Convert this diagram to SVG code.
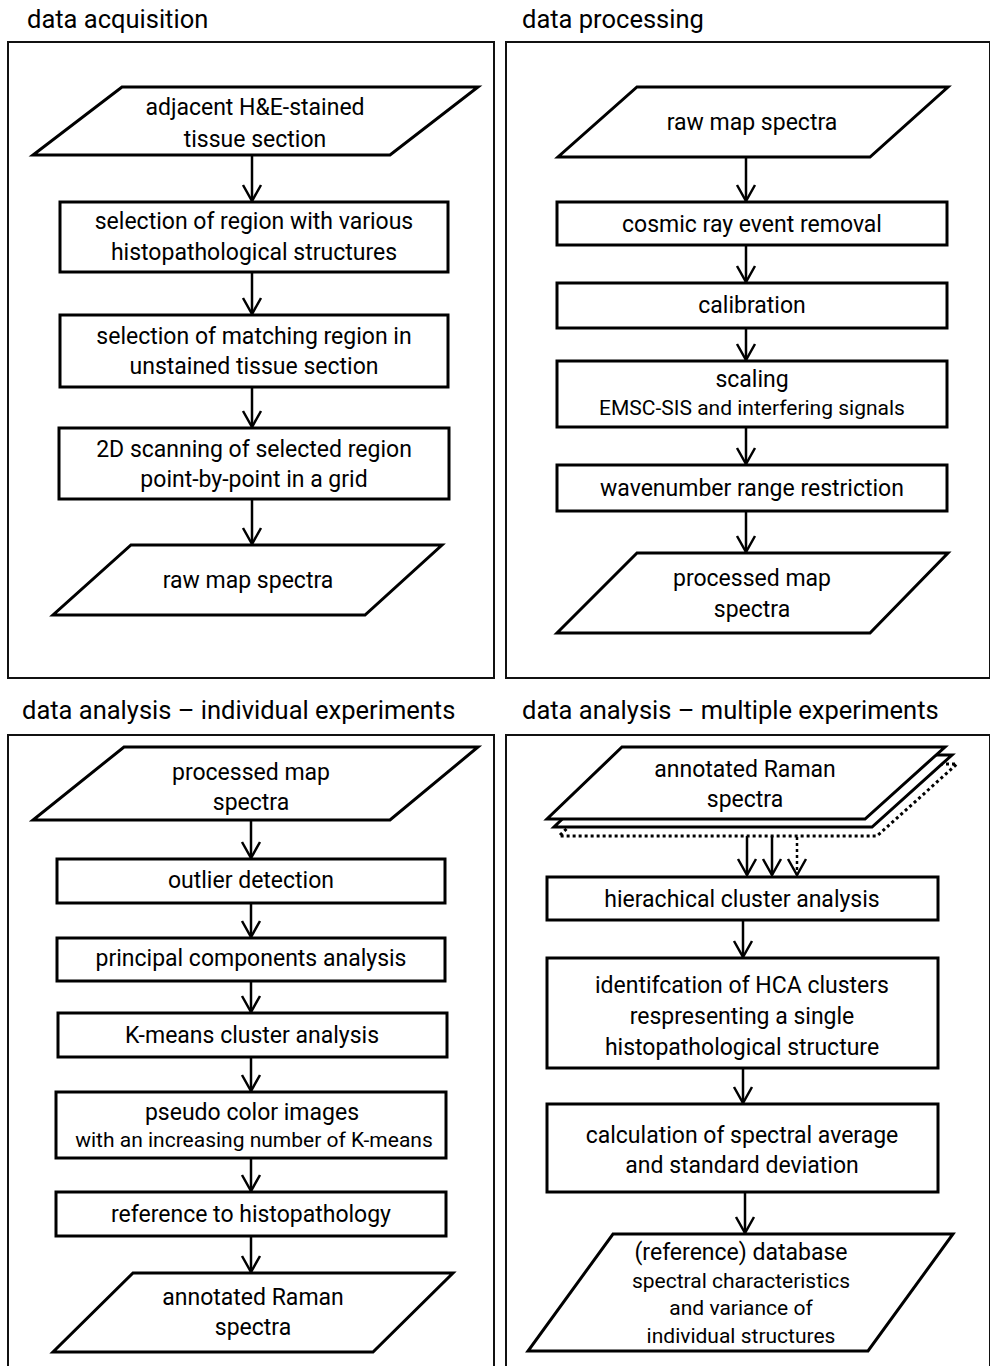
<svg xmlns="http://www.w3.org/2000/svg" width="990" height="1366" viewBox="0 0 990 1366">
<style>
text{font-family:Roboto,"Liberation Sans",sans-serif;fill:#000;text-anchor:middle;font-size:23px}
.title{text-anchor:start;font-size:25.5px}
.sub{font-size:21px}
.panel{fill:none;stroke:#111;stroke-width:2}
.node{fill:#fff;stroke:#000;stroke-width:3;stroke-linejoin:miter}
.conn{stroke:#000;stroke-width:2.5;fill:none}
.dot{stroke-dasharray:3 3}
</style>
<defs>
<marker id="ah" viewBox="-18 -11 20 22" markerWidth="20" markerHeight="22" refX="0" refY="0" orient="auto" markerUnits="userSpaceOnUse">
<path d="M-16,-9 L0,0 L-16,9" fill="none" stroke="#000" stroke-width="2.5"/>
</marker>
</defs>
<rect width="990" height="1366" fill="#fff"/>

<g id="panels">
<rect class="panel" x="8" y="42" width="486" height="636"/>
<rect class="panel" x="506" y="42" width="484" height="636"/>
<rect class="panel" x="8" y="735" width="486" height="640"/>
<rect class="panel" x="506" y="735" width="484" height="640"/>
<text class="title" x="27" y="28">data acquisition</text>
<text class="title" x="522" y="28">data processing</text>
<text class="title" x="22" y="719">data analysis – individual experiments</text>
<text class="title" x="522" y="719">data analysis – multiple experiments</text>
</g>

<g id="connectors">
<line class="conn" x1="252" y1="155" x2="252" y2="201" marker-end="url(#ah)"/>
<line class="conn" x1="252" y1="272" x2="252" y2="314" marker-end="url(#ah)"/>
<line class="conn" x1="252" y1="387" x2="252" y2="427" marker-end="url(#ah)"/>
<line class="conn" x1="252" y1="499" x2="252" y2="544" marker-end="url(#ah)"/>

<line class="conn" x1="746" y1="157" x2="746" y2="201" marker-end="url(#ah)"/>
<line class="conn" x1="746" y1="245" x2="746" y2="282" marker-end="url(#ah)"/>
<line class="conn" x1="746" y1="328" x2="746" y2="360" marker-end="url(#ah)"/>
<line class="conn" x1="746" y1="427" x2="746" y2="464" marker-end="url(#ah)"/>
<line class="conn" x1="746" y1="511" x2="746" y2="552" marker-end="url(#ah)"/>

<line class="conn" x1="251" y1="820" x2="251" y2="858" marker-end="url(#ah)"/>
<line class="conn" x1="251" y1="903" x2="251" y2="937" marker-end="url(#ah)"/>
<line class="conn" x1="251" y1="981" x2="251" y2="1012" marker-end="url(#ah)"/>
<line class="conn" x1="251" y1="1057" x2="251" y2="1091" marker-end="url(#ah)"/>
<line class="conn" x1="251" y1="1158" x2="251" y2="1191" marker-end="url(#ah)"/>
<line class="conn" x1="251" y1="1236" x2="251" y2="1272" marker-end="url(#ah)"/>

<line class="conn" x1="747" y1="819" x2="747" y2="875" marker-end="url(#ah)"/>
<line class="conn" x1="772" y1="827" x2="772" y2="875" marker-end="url(#ah)"/>
<line class="conn dot" x1="797" y1="837" x2="797" y2="875" marker-end="url(#ah)"/>
<line class="conn" x1="743" y1="920" x2="743" y2="957" marker-end="url(#ah)"/>
<line class="conn" x1="743" y1="1068" x2="743" y2="1103" marker-end="url(#ah)"/>
<line class="conn" x1="745" y1="1192" x2="745" y2="1233" marker-end="url(#ah)"/>
</g>

<g id="tl-input">
<polygon class="node" points="122,87 478,87 390,155 33,155"/>
<text x="255" y="115">adjacent H&amp;E-stained</text>
<text x="255" y="147">tissue section</text>
</g>
<g id="tl-select-region">
<rect class="node" x="60" y="202" width="388" height="70"/>
<text x="254" y="229">selection of region with various</text>
<text x="254" y="260">histopathological structures</text>
</g>
<g id="tl-select-matching">
<rect class="node" x="60" y="315" width="388" height="72"/>
<text x="254" y="344">selection of matching region in</text>
<text x="254" y="374">unstained tissue section</text>
</g>
<g id="tl-scanning">
<rect class="node" x="59" y="428" width="390" height="71"/>
<text x="254" y="457">2D scanning of selected region</text>
<text x="254" y="487">point-by-point in a grid</text>
</g>
<g id="tl-output">
<polygon class="node" points="131,545 442,545 365,615 53,615"/>
<text x="248" y="588">raw map spectra</text>
</g>

<g id="tr-input">
<polygon class="node" points="637,87 948,87 870,157 558,157"/>
<text x="752" y="130">raw map spectra</text>
</g>
<g id="tr-cosmic">
<rect class="node" x="557" y="202" width="390" height="43"/>
<text x="752" y="232">cosmic ray event removal</text>
</g>
<g id="tr-calibration">
<rect class="node" x="557" y="283" width="390" height="45"/>
<text x="752" y="313">calibration</text>
</g>
<g id="tr-scaling">
<rect class="node" x="557" y="361" width="390" height="66"/>
<text x="752" y="387">scaling</text>
<text class="sub" x="752" y="415">EMSC-SIS and interfering signals</text>
</g>
<g id="tr-wavenumber">
<rect class="node" x="557" y="465" width="390" height="46"/>
<text x="752" y="496">wavenumber range restriction</text>
</g>
<g id="tr-output">
<polygon class="node" points="637,553 948,553 870,633 557,633"/>
<text x="752" y="586">processed map</text>
<text x="752" y="617">spectra</text>
</g>

<g id="bl-input">
<polygon class="node" points="124,747 478,747 390,820 33,820"/>
<text x="251" y="780">processed map</text>
<text x="251" y="810">spectra</text>
</g>
<g id="bl-outlier">
<rect class="node" x="57" y="859" width="388" height="44"/>
<text x="251" y="888">outlier detection</text>
</g>
<g id="bl-pca">
<rect class="node" x="57" y="938" width="388" height="43"/>
<text x="251" y="966">principal components analysis</text>
</g>
<g id="bl-kmeans">
<rect class="node" x="58" y="1013" width="389" height="44"/>
<text x="252" y="1043">K-means cluster analysis</text>
</g>
<g id="bl-pseudo">
<rect class="node" x="56" y="1092" width="390" height="66"/>
<text x="252" y="1120">pseudo color images</text>
<text class="sub" x="254" y="1147">with an increasing number of K-means</text>
</g>
<g id="bl-reference">
<rect class="node" x="56" y="1192" width="390" height="44"/>
<text x="251" y="1222">reference to histopathology</text>
</g>
<g id="bl-output">
<polygon class="node" points="133,1273 453,1273 373,1352 53,1352"/>
<text x="253" y="1305">annotated Raman</text>
<text x="253" y="1335">spectra</text>
</g>

<g id="br-input">
<polygon class="node dot" points="634,764 957,764 877,836 559,836"/>
<polygon class="node" points="629,755 952,755 872,827 554,827"/>
<polygon class="node" points="622,747 945,747 865,819 547,819"/>
<text x="745" y="777">annotated Raman</text>
<text x="745" y="807">spectra</text>
</g>
<g id="br-hca">
<rect class="node" x="547" y="877" width="391" height="43"/>
<text x="742" y="907">hierachical cluster analysis</text>
</g>
<g id="br-identification">
<rect class="node" x="547" y="958" width="391" height="110"/>
<text x="742" y="993">identifcation of HCA clusters</text>
<text x="742" y="1024">respresenting a single</text>
<text x="742" y="1055">histopathological structure</text>
</g>
<g id="br-calculation">
<rect class="node" x="547" y="1104" width="391" height="88"/>
<text x="742" y="1143">calculation of spectral average</text>
<text x="742" y="1173">and standard deviation</text>
</g>
<g id="br-output">
<polygon class="node" points="613,1234 953,1234 868,1351 528,1351"/>
<text x="741" y="1260">(reference) database</text>
<text class="sub" x="741" y="1288">spectral characteristics</text>
<text class="sub" x="741" y="1315">and variance of</text>
<text class="sub" x="741" y="1343">individual structures</text>
</g>
</svg>
